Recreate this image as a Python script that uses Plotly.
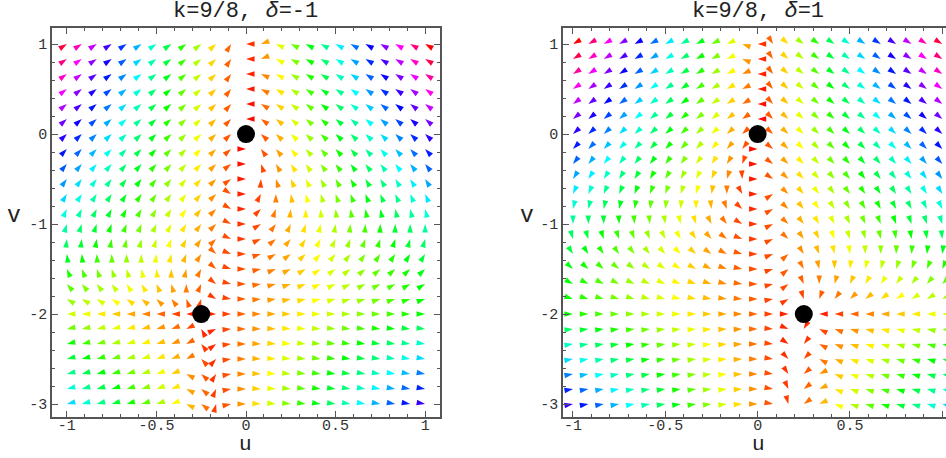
import colorsys
import numpy as np
import plotly.graph_objects as go

# sample grid (25 x 25)
u_vals = np.linspace(-1, 1, 25)
v_vals = np.linspace(-3, 1, 25)

k_val = 9 / 8
delta_vals = [-1, 1]
titles = ["k=9/8, <i>δ</i>=-1", "k=9/8, <i>δ</i>=1"]
equilibria = [[(0.0, 0.0), (-0.25, -2.0)], [(0.0, 0.0), (0.25, -2.0)]]

# coefficients of the planar system
coef_a, coef_c, f_scale = -1.25, -1.125, 0.27
g_upper, g_lower = 0.445, 0.25

x_tick_vals = [-1, -0.5, 0, 0.5, 1]
x_tick_text = ["-1", "-0.5", "0", "0.5", "1"]
y_tick_vals = [1, 0, -1, -2, -3]
y_tick_text = ["1", "0", "-1", "-2", "-3"]


def field(u, v, delta):
    a = 1.0 / (k_val - 1.0)
    du = f_scale * (-delta * (coef_a * u + coef_c * u * v) - v / a)
    w = v + 2.0
    amp = np.where(w >= 0, g_upper, g_lower) * np.sign(w) * np.sqrt(np.abs(w))
    side = np.sign(-a * delta * u - v + 1e-9)
    dv = u * amp * side
    return du, dv


W, H = 946, 458
panels = [
    dict(x0=52, x1=440, xr=(-1.083, 1.083)),
    dict(x0=563, x1=946, xr=(-1.054, 1.020)),
]
ytop, ybot = 28, 417
yr = (-3.144, 1.178)

fig = go.Figure()
for i, (delta, p) in enumerate(zip(delta_vals, panels)):
    xa = "x" if i == 0 else "x2"
    ya = "y" if i == 0 else "y2"
    sx = (p["x1"] - p["x0"]) / (p["xr"][1] - p["xr"][0])
    sy = (ybot - ytop) / (yr[1] - yr[0])
    UU, VV = np.meshgrid(u_vals, v_vals)
    du, dv = field(UU, VV, delta)
    mag = np.hypot(du, dv)
    keep = mag > 1e-6
    hue = (mag - mag.min()) / (mag.max() - mag.min())
    ang = np.degrees(np.arctan2(du * sx, dv * sy))
    cols = []
    for h in hue[keep]:
        r, g, b = colorsys.hsv_to_rgb(h % 1.0, 1.0, 1.0)
        cols.append(f"rgb({int(r*255)},{int(g*255)},{int(b*255)})")
    fig.add_trace(go.Scatter(
        x=UU[keep], y=VV[keep], mode="markers", xaxis=xa, yaxis=ya,
        marker=dict(symbol="arrow", size=9, angle=ang[keep], color=cols,
                    line=dict(width=0)),
        hoverinfo="skip", showlegend=False))
    eq = equilibria[i]
    fig.add_trace(go.Scatter(
        x=[e[0] for e in eq], y=[e[1] for e in eq], mode="markers",
        xaxis=xa, yaxis=ya, marker=dict(color="black", size=18),
        hoverinfo="skip", showlegend=False))

axis_common = dict(
    showgrid=False, zeroline=False, showline=True, linecolor="#555",
    linewidth=1.5, ticks="inside", ticklen=6, tickcolor="#555",
    tickfont=dict(family="Liberation Mono", size=15, color="#333"),
)

layout = dict(
    width=W, height=H, margin=dict(l=0, r=0, t=0, b=0),
    paper_bgcolor="white", plot_bgcolor="white",
)
for i, p in enumerate(panels):
    sfx = "" if i == 0 else "2"
    layout["xaxis" + sfx] = dict(
        axis_common, domain=[p["x0"] / W, p["x1"] / W], range=list(p["xr"]),
        anchor="y" + sfx, mirror="ticks", ticklabelstandoff=-7,
        tickvals=x_tick_vals, ticktext=x_tick_text,
        minor=dict(ticks="inside", ticklen=3, tickcolor="#555", dtick=0.1, tick0=0),
    )
    layout["yaxis" + sfx] = dict(
        axis_common, domain=[(H - ybot) / H, (H - ytop) / H], range=list(yr),
        anchor="x" + sfx, mirror="ticks" if i == 0 else False,
        tickvals=y_tick_vals, ticktext=y_tick_text,
        minor=dict(ticks="inside", ticklen=3, tickcolor="#555", dtick=0.2, tick0=0),
    )
fig.update_layout(**layout)

for i, p in enumerate(panels):
    cx = 245 if i == 0 else 758
    fig.add_annotation(x=cx / W, y=1 - 12 / H, xref="paper", yref="paper",
                       xanchor="center", yanchor="middle",
                       text=titles[i], showarrow=False,
                       font=dict(family="Liberation Mono", size=22, color="#222"))
    fig.add_annotation(x=cx / W, y=0, xref="paper", yref="paper",
                       xanchor="center", yanchor="bottom",
                       text="u", showarrow=False,
                       font=dict(family="Liberation Mono", size=21, color="#222"))
    vx = 14 if i == 0 else 527
    fig.add_annotation(x=vx / W, y=1 - 216 / H, xref="paper", yref="paper",
                       xanchor="center", yanchor="middle",
                       text="v", showarrow=False,
                       font=dict(family="Liberation Mono", size=23, color="#222"))

fig.write_html("out.html")
